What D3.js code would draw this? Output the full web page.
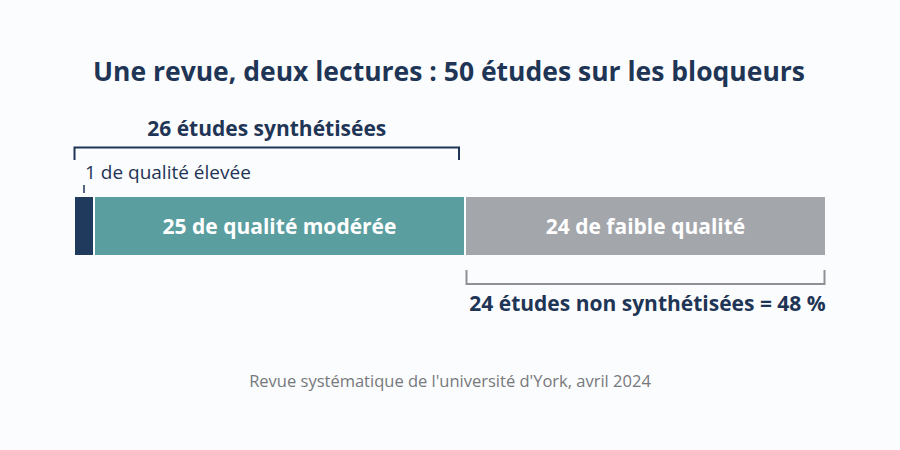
<!DOCTYPE html>
<html><head><meta charset="utf-8">
<script src="https://cdn.jsdelivr.net/npm/d3@7"></script>
<style>
html,body{margin:0;padding:0;background:#fbfcfd;}
svg{display:block;}
text{font-family:"Open Sans",sans-serif;}
</style></head>
<body>
<svg id="c" width="900" height="450"></svg>
<script>
const categories = ["1 de qualité élevée", "25 de qualité modérée", "24 de faible qualité"];
const counts = [1, 25, 24];
const colors = ["#1f3a5c", "#5b9ea0", "#a3a6ab"];
const total = 50;
const synthLabel = "26 études synthétisées";
const nonSynthLabel = "24 études non synthétisées = 48 %";
const title = "Une revue, deux lectures : 50 études sur les bloqueurs";
const source = "Revue systématique de l'université d'York, avril 2024";

const svg = d3.select("#c");
const x = d3.scaleLinear().domain([0, total]).range([75, 825]);
const barY = 197, barH = 58;
const navy = "#1f3556";

svg.append("rect").attr("width",900).attr("height",450).attr("fill","#fbfcfd");

svg.append("text").attr("x",449).attr("y",81).attr("text-anchor","middle")
  .attr("font-size",26.5).attr("font-weight",700).attr("fill",navy).text(title);

// segments
let cum = 0;
const segs = counts.map((c,i)=>{const s={i,start:cum,end:cum+c,c}; cum+=c; return s;});
const minW = 18;
const segX0 = [], segX1 = [];
segs.forEach((s,i)=>{
  let x0 = i===0 ? x(s.start) : segX1[i-1] + 2;
  let x1 = i===0 ? Math.max(x(s.end), x0 + minW) : (i===segs.length-1 ? x(s.end) : x(s.end) - 1);
  segX0.push(x0); segX1.push(x1);
});
svg.selectAll("rect.seg").data(segs).join("rect").attr("class","seg")
  .attr("x",(d,i)=>segX0[i]).attr("y",barY).attr("width",(d,i)=>segX1[i]-segX0[i]).attr("height",barH)
  .attr("fill",(d,i)=>colors[i]);

svg.selectAll("text.seglab").data(segs.slice(1)).join("text").attr("class","seglab")
  .attr("x",d=>(segX0[d.i]+segX1[d.i])/2).attr("y",barY+barH/2+8).attr("text-anchor","middle")
  .attr("font-size",21).attr("font-weight",700).attr("fill","#ffffff").text(d=>categories[d.i]);

// small label for first segment
svg.append("line").attr("x1",84).attr("x2",84).attr("y1",185).attr("y2",193)
  .attr("stroke",navy).attr("stroke-width",1.5);
svg.append("text").attr("x",85).attr("y",179).attr("font-size",19).attr("fill",navy).text(categories[0]);

// top bracket
const tb0 = x(0)-0.5, tb1 = x(counts[0]+counts[1]) - 6;
svg.append("path").attr("d",`M${tb0},160V147.5H${tb1}V160`).attr("fill","none")
  .attr("stroke",navy).attr("stroke-width",2);
svg.append("text").attr("x",(tb0+tb1)/2).attr("y",136).attr("text-anchor","middle")
  .attr("font-size",21).attr("font-weight",700).attr("fill",navy).text(synthLabel);

// bottom bracket
const bb0 = segX0[2]+0.5, bb1 = x(total)-0.5;
svg.append("path").attr("d",`M${bb0},270V284H${bb1}V270`).attr("fill","none")
  .attr("stroke","#8e9096").attr("stroke-width",2);
svg.append("text").attr("x",(bb0+bb1)/2+2).attr("y",311).attr("text-anchor","middle")
  .attr("font-size",21).attr("font-weight",700).attr("fill",navy).text(nonSynthLabel);

svg.append("text").attr("x",450).attr("y",387).attr("text-anchor","middle")
  .attr("font-size",16.5).attr("fill","#76787c").text(source);
</script>
</body></html>
